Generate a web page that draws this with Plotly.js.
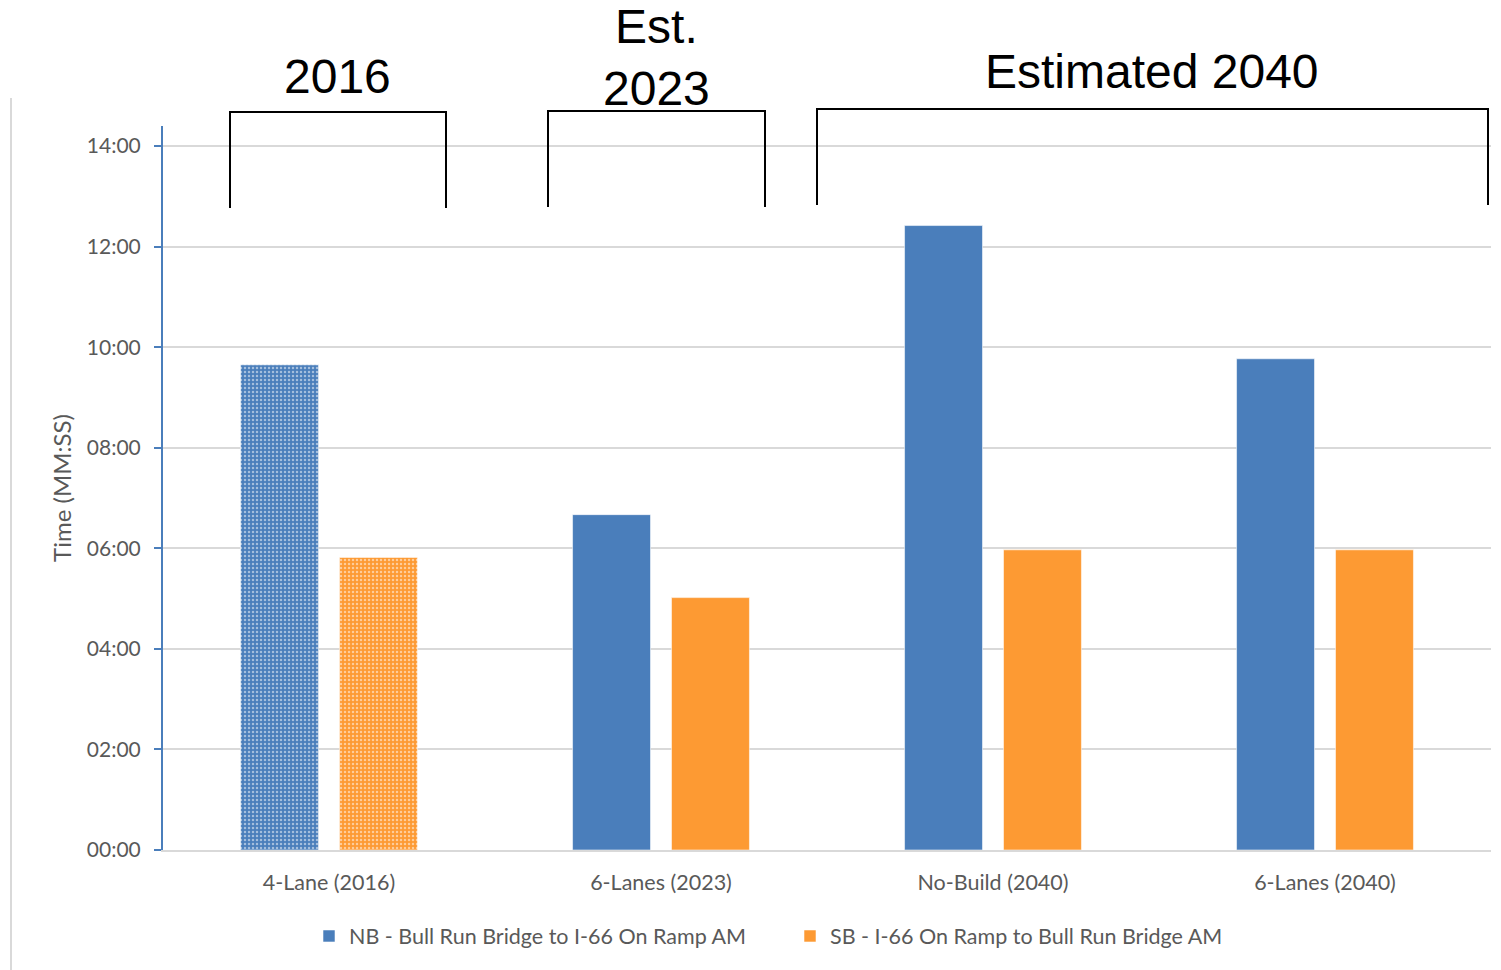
<!DOCTYPE html>
<html>
<head>
<meta charset="utf-8">
<script src="https://cdn.plot.ly/plotly-3.0.1.min.js"></script>
<style>html,body{margin:0;padding:0;background:#fff;}#chart{width:1501px;height:970px;}</style>
</head>
<body>
<div id="chart"></div>
<script>
// Data (travel time in minutes)
const categories = ["4-Lane (2016)", "6-Lanes (2023)", "No-Build (2040)", "6-Lanes (2040)"];
const nbName = "NB - Bull Run Bridge to I-66 On Ramp AM";
const sbName = "SB - I-66 On Ramp to Bull Run Bridge AM";
const nbMinutes = [9.65, 6.67, 12.42, 9.77];
const sbMinutes = [5.82, 5.02, 5.97, 5.97];
const tickMinutes = [0, 2, 4, 6, 8, 10, 12, 14];
const tickLabels = ["00:00", "02:00", "04:00", "06:00", "08:00", "10:00", "12:00", "14:00"];
const groupLabels = ["2016", "Est.<br>2023", "Estimated 2040"];
const patternedIndex = [0]; // observed (2016) bars drawn with pattern

const BLUE = "#4a7ebb", ORANGE = "#fd9a33";
const FONT = "Lato, 'Open Sans', sans-serif";

const isPat = (i) => patternedIndex.includes(i);
const pick = (arr, pat) => arr.filter((_, i) => isPat(i) === pat);
const catPat = pick(categories, true), catSolid = pick(categories, false);

const edge = {color: "rgba(255,255,255,0.55)", width: 1};
const traces = [
  {type: "bar", x: catPat, y: pick(nbMinutes, true), name: nbName, offsetgroup: "nb", showlegend: false,
   marker: {color: BLUE, line: edge, pattern: {shape: ".", fgcolor: "#ffffff", bgcolor: BLUE, size: 4, solidity: 0.3, fillmode: "overlay"}}},
  {type: "bar", x: catPat, y: pick(sbMinutes, true), name: sbName, offsetgroup: "sb", showlegend: false,
   marker: {color: ORANGE, line: edge, pattern: {shape: ".", fgcolor: "#ffffff", bgcolor: ORANGE, size: 4, solidity: 0.3, fillmode: "overlay"}}},
  {type: "bar", x: catSolid, y: pick(nbMinutes, false), name: nbName, offsetgroup: "nb",
   marker: {color: BLUE, line: edge}},
  {type: "bar", x: catSolid, y: pick(sbMinutes, false), name: sbName, offsetgroup: "sb",
   marker: {color: ORANGE, line: edge}}
];

// plot area in pixels: x 163..1491, y 126..850
const L = 163, R = 1491, T = 126, B = 850;
const px = (x) => (x - L) / (R - L);
const py = (y) => (B - y) / (B - T);

function bracket(x0, x1, yTop, yBot) {
  return {type: "path", xref: "paper", yref: "paper",
    path: `M ${px(x0)} ${py(yBot)} L ${px(x0)} ${py(yTop)} L ${px(x1)} ${py(yTop)} L ${px(x1)} ${py(yBot)}`,
    line: {color: "#000", width: 2}};
}

const shapes = [
  bracket(230, 446, 112, 208),
  bracket(548, 765, 111, 207),
  bracket(817, 1488, 109, 205),
  {type: "line", xref: "paper", yref: "paper", x0: px(11), x1: px(11), y0: py(98), y1: py(970),
   line: {color: "#d9d9d9", width: 2}}
];

const annPos = [[337, 76], [656, 57], [1152, 72]];
const annotations = groupLabels.map((t, i) => ({
  text: t, xref: "paper", yref: "paper", x: px(annPos[i][0]), y: py(annPos[i][1]),
  xanchor: "center", yanchor: "middle", showarrow: false,
  font: {family: "'Liberation Sans', Arial, sans-serif", size: 48, color: "#000"}
}));

const layout = {
  width: 1501, height: 970,
  margin: {l: L, r: 1501 - R, t: T, b: 970 - B, pad: 0},
  paper_bgcolor: "#fff", plot_bgcolor: "#fff",
  barmode: "group", bargap: 0.404, bargroupgap: 0.212,
  font: {family: FONT, size: 21, color: "#595959"},
  showlegend: true,
  legend: {orientation: "h", x: px(790), xanchor: "center", y: py(936), yanchor: "middle",
    font: {family: FONT, size: 21.5, color: "#595959"}, itemwidth: 30, tracegroupgap: 0,
    entrywidth: 436, entrywidthmode: "pixels"},
  xaxis: {type: "category", showline: true, linecolor: "#d9d9d9", linewidth: 2, ticks: "",
    showgrid: false, tickfont: {family: FONT, size: 21.5, color: "#595959"}, ticklabelstandoff: 12},
  yaxis: {range: [0, 14.4], tickvals: tickMinutes, ticktext: tickLabels,
    showline: true, linecolor: BLUE, linewidth: 2, ticks: "outside", ticklen: 7, tickwidth: 2, tickcolor: BLUE,
    showgrid: true, gridcolor: "#d9d9d9", gridwidth: 2, zeroline: false,
    tickfont: {family: FONT, size: 21, color: "#595959"}, ticklabelstandoff: 9,
    title: {text: "Time (MM:SS)", font: {family: FONT, size: 24, color: "#595959"}, standoff: 8}},
  shapes: shapes,
  annotations: annotations
};

Plotly.newPlot("chart", traces, layout, {displayModeBar: false, staticPlot: true});
</script>
</body>
</html>
